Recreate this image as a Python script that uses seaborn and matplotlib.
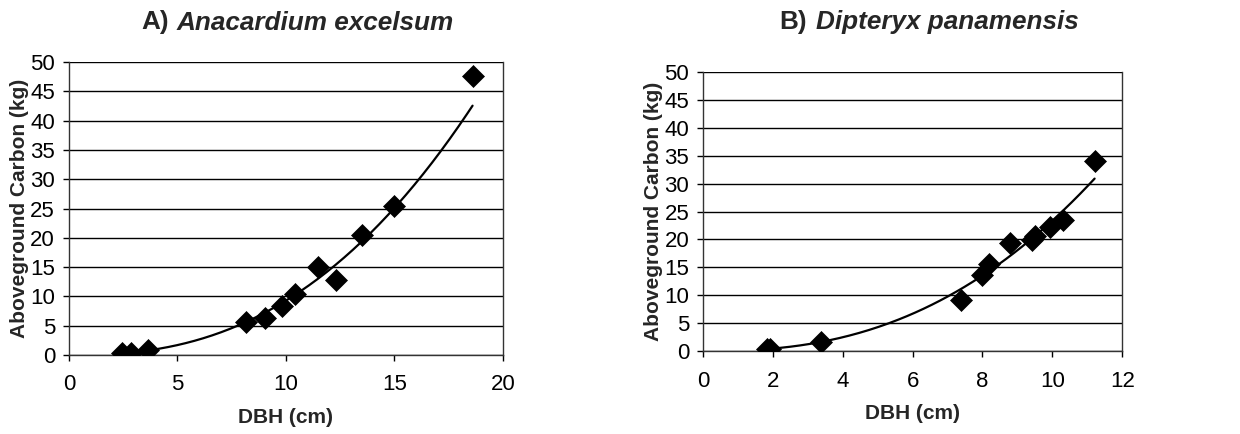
import numpy as np
import pandas as pd
import matplotlib
matplotlib.use("Agg")
import matplotlib.pyplot as plt
import seaborn as sns

# Panel A: Anacardium excelsum
dbh_a = [2.46, 2.84, 3.64, 8.15, 9.04, 9.8, 10.4, 11.5, 12.3, 13.5, 15.0, 18.6]
carbon_a = [0.36, 0.36, 0.8, 5.6, 6.3, 8.3, 10.4, 15.05, 12.8, 20.5, 25.4, 47.7]

# Panel B: Dipteryx panamensis
dbh_b = [1.83, 1.93, 3.38, 7.39, 8.0, 8.2, 8.79, 9.41, 9.5, 9.92, 10.31, 11.21]
carbon_b = [0.4, 0.4, 1.6, 9.1, 13.6, 15.6, 19.3, 19.9, 20.6, 22.2, 23.5, 34.1]

prefixes = ["A)", "B)"]
species = ["Anacardium excelsum", "Dipteryx panamensis"]
xlabel = "DBH (cm)"
ylabel = "Aboveground Carbon (kg)"
xticks_a = [0, 5, 10, 15, 20]
xticks_b = [0, 2, 4, 6, 8, 10, 12]
yticks = [0, 5, 10, 15, 20, 25, 30, 35, 40, 45, 50]

sns.set_theme(style="white")
plt.rcParams['font.family'] = ['Liberation Sans', 'DejaVu Sans']

fig = plt.figure(figsize=(12.4, 4.34), dpi=100)
ax_a = fig.add_axes([0.0556, 0.182, 0.350, 0.675])
ax_b = fig.add_axes([0.567, 0.191, 0.338, 0.643])


def power_fit(x, y):
    x = np.asarray(x, float)
    y = np.asarray(y, float)
    b, ln_a = np.polyfit(np.log(x), np.log(y), 1)
    xs = np.linspace(x.min(), x.max(), 200)
    return xs, np.exp(ln_a) * xs ** b


def draw(ax, x, y, xticks, xmax):
    xs, ys = power_fit(x, y)
    for yt in yticks:
        ax.axhline(yt, color="black", lw=1.0, zorder=0)
    sns.lineplot(x=xs, y=ys, ax=ax, color="black", lw=1.6, zorder=2)
    sns.scatterplot(x=x, y=y, ax=ax, marker="D", s=125, color="black",
                    edgecolor="black", linewidth=0.5, zorder=3)
    ax.set_xlim(0, xmax)
    ax.set_ylim(0, 50)
    ax.set_xticks(xticks)
    ax.set_yticks(yticks)
    ax.tick_params(axis="both", direction="out", length=4, width=1,
                   color="black", labelsize=16, labelcolor="black", pad=6,
                   bottom=True, left=True)
    ax.tick_params(axis="x", pad=10)
    for side in ["left", "right", "bottom"]:
        ax.spines[side].set_visible(True)
        ax.spines[side].set_color("#333333")
        ax.spines[side].set_linewidth(1.0)
    ax.spines["top"].set_visible(False)
    ax.set_xlabel(xlabel, fontsize=15, fontweight="bold", labelpad=9)
    ax.set_ylabel(ylabel, fontsize=15, fontweight="bold", labelpad=1)


draw(ax_a, dbh_a, carbon_a, xticks_a, 20)
draw(ax_b, dbh_b, carbon_b, xticks_b, 12)

# Titles: bold prefix + bold italic species name
ty = 1 - 22.5 / 434
fig.text(169 / 1240, ty, prefixes[0], fontsize=18.8, fontweight="bold",
         ha="right", va="center")
fig.text(177 / 1240, ty, species[0], fontsize=18.8, fontweight="bold",
         style="italic", ha="left", va="center")
fig.text(807 / 1240, ty, prefixes[1], fontsize=18.8, fontweight="bold",
         ha="right", va="center")
fig.text(816 / 1240, ty, species[1], fontsize=18.8, fontweight="bold",
         style="italic", ha="left", va="center")

fig.savefig("out.png", dpi=100)
